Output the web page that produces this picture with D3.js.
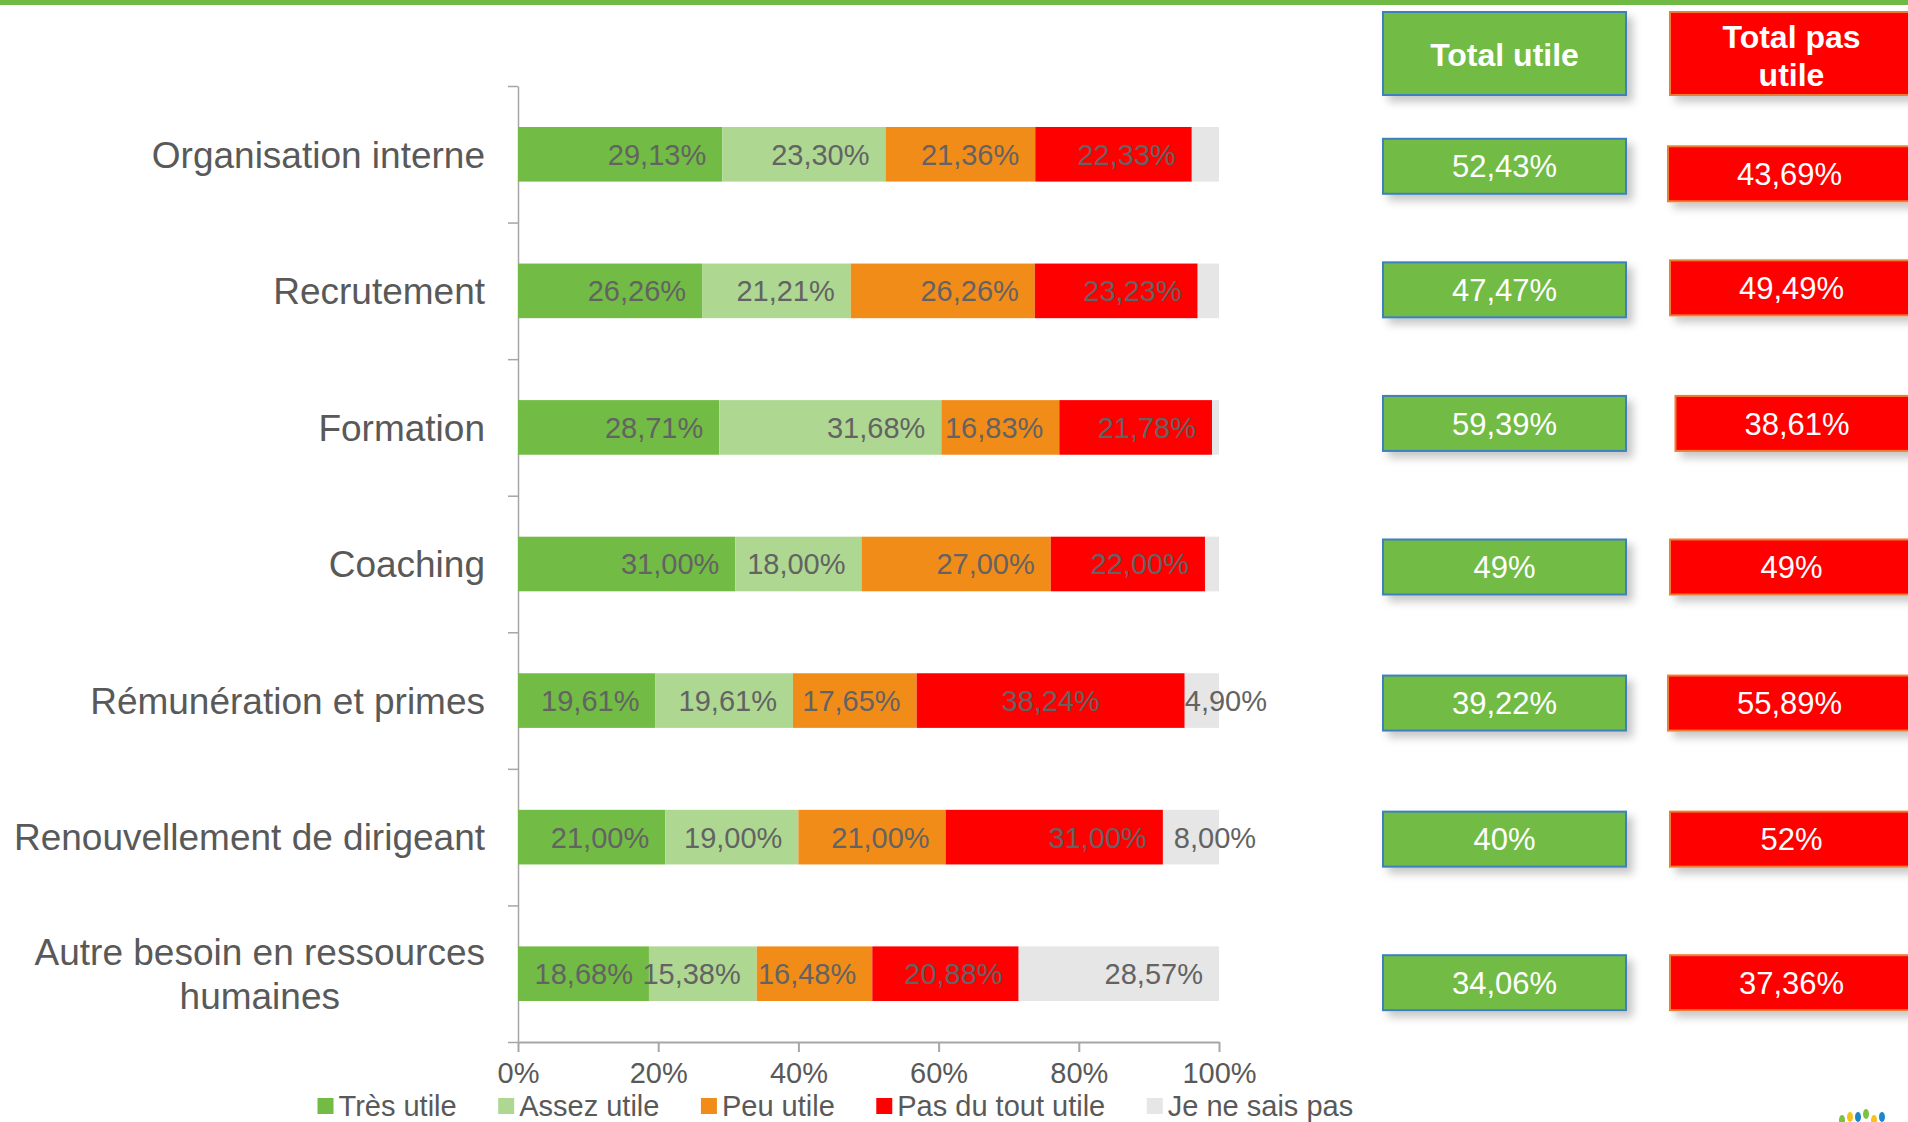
<!DOCTYPE html>
<html>
<head>
<meta charset="utf-8">
<script src="https://cdn.jsdelivr.net/npm/d3@7"></script>
<style>
  body { margin: 0; background: #fff; }
  svg { display: block; font-family: "Liberation Sans", Arial, sans-serif; }
</style>
</head>
<body>
<div id="chart"></div>
<script>
// data
const categories = [
  "Organisation interne",
  "Recrutement",
  "Formation",
  "Coaching",
  "Rémunération et primes",
  "Renouvellement de dirigeant",
  "Autre besoin en ressources\nhumaines"
];
const series = ["Très utile", "Assez utile", "Peu utile", "Pas du tout utile", "Je ne sais pas"];
const tresUtile    = [29.13, 26.26, 28.71, 31.00, 19.61, 21.00, 18.68];
const assezUtile   = [23.30, 21.21, 31.68, 18.00, 19.61, 19.00, 15.38];
const peuUtile     = [21.36, 26.26, 16.83, 27.00, 17.65, 21.00, 16.48];
const pasDuTout    = [22.33, 23.23, 21.78, 22.00, 38.24, 31.00, 20.88];
const neSaisPas    = [3.88, 3.04, 1.00, 2.00, 4.90, 8.00, 28.57];
const showNspLabel = [false, false, false, false, true, true, true];
const totalUtile    = ["52,43%", "47,47%", "59,39%", "49%", "39,22%", "40%", "34,06%"];
const totalPasUtile = ["43,69%", "49,49%", "38,61%", "49%", "55,89%", "52%", "37,36%"];
const xTicks = [0, 20, 40, 60, 80, 100];

const colors = ["#72bb44", "#aed891", "#f28c19", "#ff0000", "#e6e6e6"];

// labels that sit in the middle of their segment instead of at its end: [row, series]
const centeredLabels = [[4, 3]];

// small per-row shifts of the side boxes (they are hand placed in the original)
const greenNudge = [12, -1, -4, 3, 2.5, 2, 9];
const redNudge = [19.5, -3, -4, 3, 2.5, 2, 9];
const redShiftX = [-2, 0, 5.5, 0, -2, 0, 0];

const W = 1908, H = 1122;
const svg = d3.select("#chart").append("svg").attr("width", W).attr("height", H);

const defs = svg.append("defs");
const f = defs.append("filter").attr("id", "shadow").attr("x", "-10%").attr("y", "-20%").attr("width", "130%").attr("height", "160%");
f.append("feDropShadow").attr("dx", 6).attr("dy", 6).attr("stdDeviation", 4)
  .attr("flood-color", "#000").attr("flood-opacity", 0.22);

// top stripe
svg.append("rect").attr("x", 0).attr("y", 0).attr("width", W).attr("height", 5).attr("fill", "#71b945");

const x = d3.scaleLinear().domain([0, 100]).range([518, 1219]);
const y = d3.scaleBand().domain(categories).range([86, 1042]).paddingInner(0.6).paddingOuter(0.3);
const yEdge = d3.scaleLinear().domain([0, categories.length]).range([86, 1042]);

const rows = categories.map((c, i) => {
  const vals = [tresUtile[i], assezUtile[i], peuUtile[i], pasDuTout[i], neSaisPas[i]];
  let acc = 0;
  return vals.map((v, k) => {
    const s = { cat: c, k, v, x0: acc, x1: acc + v, row: i };
    acc += v;
    return s;
  });
});

// axes
const gy = svg.append("g").attr("transform", `translate(${x(0)},0)`)
  .call(d3.axisLeft(yEdge).tickValues(d3.range(categories.length + 1)).tickSize(10).tickSizeOuter(0).tickFormat(""));
gy.selectAll("path, line").attr("stroke", "#a6a6a6").attr("stroke-width", 1.5);

const gx = svg.append("g").attr("transform", `translate(0,${yEdge(categories.length)})`)
  .call(d3.axisBottom(x).tickValues(xTicks).tickSize(10).tickSizeOuter(0).tickPadding(10.5).tickFormat(d => d + "%"));
gx.selectAll("path, line").attr("stroke", "#a6a6a6").attr("stroke-width", 2);
gx.selectAll("text").attr("font-size", 29).attr("fill", "#595959").attr("font-family", "Liberation Sans, Arial, sans-serif");

// bars
const gBars = svg.append("g");
rows.forEach(segs => {
  gBars.selectAll(null).data(segs).enter().append("rect")
    .attr("x", d => x(d.x0))
    .attr("y", d => y(d.cat))
    .attr("width", d => x(d.x1) - x(d.x0))
    .attr("height", y.bandwidth())
    .attr("fill", d => colors[d.k]);
});

// data labels
const fmt = v => v.toFixed(2).replace(".", ",") + "%";
rows.forEach(segs => {
  segs.forEach(d => {
    if (d.k === 4 && !showNspLabel[d.row]) return;
    const t = gBars.append("text")
      .attr("y", y(d.cat) + y.bandwidth() / 2)
      .attr("dy", "0.36em")
      .attr("font-size", 29)
      .attr("fill", "#636363")
      .text(fmt(d.v));
    const tw = t.node().getComputedTextLength();
    const w = x(d.x1) - x(d.x0);
    const centered = centeredLabels.some(([r, k]) => r === d.row && k === d.k);
    if (centered) {
      t.attr("text-anchor", "middle").attr("x", (x(d.x0) + x(d.x1)) / 2);
    } else if (w < tw - 20) {
      t.attr("text-anchor", "middle").attr("x", (x(d.x0) + x(d.x1)) / 2 + 24);
    } else {
      t.attr("text-anchor", "end").attr("x", x(d.x1) - 16);
    }
  });
});

// category labels
categories.forEach(c => {
  const lines = c.split("\n");
  const g = svg.append("g");
  const lh = 43.5;
  const cy = y(c) + y.bandwidth() / 2;
  const texts = lines.map((l, j) => g.append("text")
    .attr("y", cy + (j - (lines.length - 1) / 2) * lh)
    .attr("dy", "0.36em")
    .attr("font-size", 37)
    .attr("fill", "#595959")
    .text(l));
  const maxW = d3.max(texts, t => t.node().getComputedTextLength());
  texts.forEach(t => t.attr("text-anchor", "middle").attr("x", 485 - maxW / 2));
});

// legend
const legend = svg.append("g");
let lx = 317.5;
series.forEach((s, k) => {
  legend.append("rect").attr("x", lx).attr("y", 1098).attr("width", 16).attr("height", 16).attr("fill", colors[k]);
  const t = legend.append("text").attr("x", lx + 21).attr("y", 1115.5)
    .attr("font-size", 29).attr("fill", "#595959").text(s);
  lx += 21 + t.node().getComputedTextLength() + 41.5;
});

// side boxes
const gx0 = 1383, bw = 243, bh = 55, rx0 = 1670;
const side = svg.append("g");
side.append("rect").attr("x", gx0).attr("y", 12).attr("width", bw).attr("height", 83)
  .attr("fill", "#72bb44").attr("stroke", "#3d7fbf").attr("stroke-width", 2).attr("filter", "url(#shadow)");
side.append("text").attr("x", gx0 + bw / 2).attr("y", 54).attr("dy", "0.36em").attr("text-anchor", "middle")
  .attr("font-size", 32).attr("font-weight", "bold").attr("fill", "#fff").text("Total utile");
side.append("rect").attr("x", rx0).attr("y", 12).attr("width", bw).attr("height", 83)
  .attr("fill", "#ff0000").attr("stroke", "#ed7d31").attr("stroke-width", 2).attr("filter", "url(#shadow)");
const ht = side.append("text").attr("text-anchor", "middle").attr("font-size", 32).attr("font-weight", "bold").attr("fill", "#fff");
ht.append("tspan").attr("x", rx0 + bw / 2).attr("y", 36.5).attr("dy", "0.36em").text("Total pas");
ht.append("tspan").attr("x", rx0 + bw / 2).attr("y", 74).attr("dy", "0.36em").text("utile");

categories.forEach((c, i) => {
  const cy = y(c) + y.bandwidth() / 2;
  const gcy = cy + greenNudge[i];
  side.append("rect").attr("x", gx0).attr("y", gcy - bh / 2).attr("width", bw).attr("height", bh)
    .attr("fill", "#72bb44").attr("stroke", "#3d7fbf").attr("stroke-width", 2).attr("filter", "url(#shadow)");
  side.append("text").attr("x", gx0 + bw / 2).attr("y", gcy).attr("dy", "0.36em").attr("text-anchor", "middle")
    .attr("font-size", 31).attr("fill", "#fff").text(totalUtile[i]);
  const rcy = cy + redNudge[i];
  const rx = rx0 + redShiftX[i];
  side.append("rect").attr("x", rx).attr("y", rcy - bh / 2).attr("width", bw).attr("height", bh)
    .attr("fill", "#ff0000").attr("stroke", "#ed7d31").attr("stroke-width", 2).attr("filter", "url(#shadow)");
  side.append("text").attr("x", rx + bw / 2).attr("y", rcy).attr("dy", "0.36em").attr("text-anchor", "middle")
    .attr("font-size", 31).attr("fill", "#fff").text(totalPasUtile[i]);
});

// little logo bottom right (only its top edge is visible)
const logo = svg.append("g").attr("transform", "translate(1862,1128)");
const petals = [[-20, "#7dc142"], [-12, "#f6c21b"], [-4, "#1c87c9"], [4, "#7dc142"], [12, "#f6c21b"], [20, "#1c87c9"]];
petals.forEach(([a, col], j) => {
  logo.append("ellipse").attr("cx", a).attr("cy", -8 - (j % 2) * 3 - (Math.abs(a) < 10 ? 3 : 0))
    .attr("rx", 3).attr("ry", 5).attr("fill", col);
});
</script>
</body>
</html>
